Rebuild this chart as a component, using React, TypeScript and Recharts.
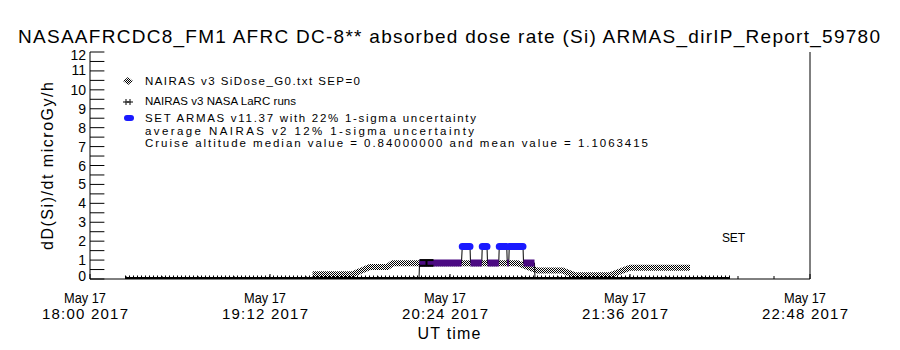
import React from 'react';
import { ComposedChart, Line, Scatter, ErrorBar, XAxis, YAxis } from 'recharts';

// time = minutes after May 17 2017 18:00 UT
const siDoseTimes = [89, 105, 112, 119, 121, 171, 179, 189, 194, 208, 216, 240];
const siDoseValues = [0.25, 0.25, 0.64, 0.64, 0.83, 0.83, 0.45, 0.45, 0.2, 0.2, 0.6, 0.6];

const larcTimes = [14, 90, 130, 180, 256];
const larcValues = [0.05, 0.05, 0.05, 0.05, 0.05];

const armasTimes = [131.6, 131.8, 148.6, 148.9, 152, 152.2, 156.7, 156.9, 158.8, 159, 163.5, 163.7, 166.7, 166.9, 167.5, 167.7, 173.2, 173.4, 177.8, 178];
const armasValues = [0, 0.85, 0.85, 1.72, 1.72, 0.85, 0.85, 1.72, 1.72, 0.85, 0.85, 1.72, 1.72, 0.85, 0.85, 1.72, 1.72, 0.85, 0.85, 0];

const avgTimes = [134.6];
const avgValues = [0.85];
const avgErrors = [0.15];

const xTickTimes = ['18:00', '19:12', '20:24', '21:36', '22:48'];
const yTicks = [0, 0.5, 1, 1.5, 2, 2.5, 3, 3.5, 4, 4.5, 5, 5.5, 6, 6.5, 7, 7.5, 8, 8.5, 9, 9.5, 10, 10.5, 11, 11.5, 12];
const xTicks = Array.from({ length: 21 }, (_, i) => i * 14.4);

const legendLines = [
  'NAIRAS v3 SiDose_G0.txt SEP=0',
  'NAIRAS v3 NASA LaRC runs',
  'SET ARMAS v11.37 with 22% 1-sigma uncertainty',
  'average NAIRAS v2 12% 1-sigma uncertainty',
  'Cruise altitude median value = 0.84000000 and mean value = 1.1063415',
];

const siDose = siDoseTimes.map((t, i) => ({ t, v: siDoseValues[i] }));
const larc = larcTimes.map((t, i) => ({ t, v: larcValues[i] }));
const armas = armasTimes.map((t, i) => {
  const v = armasValues[i];
  return { t, v, low: v > 0 && v < 1.2 ? v : null, high: v >= 1.2 ? v : null };
});
const avg = avgTimes.map((t, i) => ({ t, v: avgValues[i], err: avgErrors[i] }));

const font = '"Liberation Sans", Arial, sans-serif';

const labelShift: Record<number, number> = { 0: -3, 11: -1, 12: 3 };

const LeftTick = ({ x, y, payload }: any) => {
  const v = payload.value;
  const shift = labelShift[v] || 0;
  return (
    <g>
      <line x1={x + 4} x2={x + 18.4} y1={y} y2={y} stroke="#000" />
      {Number.isInteger(v) && (
        <text x={x} y={y + shift} dy={5} textAnchor="end" fontSize={14} fill="#000" fontFamily={font}>
          {v}
        </text>
      )}
    </g>
  );
};

const RightTick = ({ x, y }: any) => (
  <line x1={x} x2={x - 14.4} y1={y} y2={y} stroke="#000" />
);

const isMajor = (v: number) => Math.abs(v / 72 - Math.round(v / 72)) < 1e-6;

const BottomTick = ({ x, y, payload }: any) => {
  const major = isMajor(payload.value);
  const idx = Math.round(payload.value / 72);
  return (
    <g>
      <line x1={x} x2={x} y1={y} y2={y - (major ? 5 : 3)} stroke="#000" />
      {major && (
        <g fontFamily={font} fontSize={15} fill="#000">
          <text x={x - 5} y={y + 24} textAnchor="middle" textLength={42} lengthAdjust="spacingAndGlyphs">May 17</text>
          <text x={x - 5} y={y + 40} textAnchor="middle" textLength={86}>{xTickTimes[idx] + ' 2017'}</text>
        </g>
      )}
    </g>
  );
};

const TopTick = ({ x, y, payload }: any) => (
  <line x1={x} x2={x} y1={y} y2={y + (isMajor(payload.value) ? 5 : 3)} stroke="#000" />
);

export default function App() {
  return (
    <div style={{ position: 'absolute', left: 0, top: 0, width: 900, height: 350, background: '#fff', fontFamily: font }}>
      <svg width={0} height={0} style={{ position: 'absolute' }}>
        <defs>
          <pattern id="checker" width={2} height={2} patternUnits="userSpaceOnUse">
            <rect width={2} height={2} fill="#fff" />
            <rect x={0} y={0} width={1} height={1} fill="#000" />
            <rect x={1} y={1} width={1} height={1} fill="#000" />
          </pattern>
        </defs>
      </svg>
      <ComposedChart width={900} height={350} margin={{ top: 52, right: 0, bottom: 0, left: 0 }}>
        <XAxis xAxisId="bottom" dataKey="t" type="number" domain={[0, 288]} ticks={xTicks} interval={0}
          height={71} tickSize={0} tickMargin={0} tick={<BottomTick />} stroke="#000" allowDataOverflow />
        <XAxis xAxisId="top" orientation="top" dataKey="t" type="number" domain={[0, 288]} ticks={xTicks} interval={0}
          height={0} tickSize={0} tickMargin={0} tick={<TopTick />} stroke="#000" />
        <YAxis yAxisId="left" type="number" domain={[0, 12]} ticks={yTicks} interval={0} width={90}
          tickSize={0} tickMargin={4} tick={<LeftTick />} stroke="#000" allowDataOverflow />
        <YAxis yAxisId="right" orientation="right" type="number" domain={[0, 12]} ticks={yTicks} interval={0} width={90}
          tickSize={0} tickMargin={0} tick={<RightTick />} stroke="#000" />

        <Line xAxisId="bottom" yAxisId="left" data={siDose} dataKey="v" type="linear" stroke="url(#checker)"
          strokeWidth={6} dot={false} isAnimationActive={false} />
        <Line xAxisId="bottom" yAxisId="left" data={larc} dataKey="v" type="linear" stroke="#000"
          strokeWidth={2} dot={false} isAnimationActive={false} />
        <Line xAxisId="bottom" yAxisId="left" data={larc} dataKey="v" type="linear" stroke="#000"
          strokeWidth={5} strokeDasharray="1 3" dot={false} isAnimationActive={false} />
        <Line xAxisId="bottom" yAxisId="left" data={armas} dataKey="v" type="linear" stroke="#000"
          strokeWidth={1} dot={false} isAnimationActive={false} />
        <Line xAxisId="bottom" yAxisId="left" data={armas} dataKey="low" type="linear" stroke="#4b0a82"
          strokeWidth={7} dot={false} isAnimationActive={false} />
        <Line xAxisId="bottom" yAxisId="left" data={armas} dataKey="high" type="linear" stroke="#1a1aff"
          strokeWidth={7} strokeLinecap="round" dot={false} isAnimationActive={false} />
        <Scatter xAxisId="bottom" yAxisId="left" data={avg} dataKey="v" shape={() => <g />} isAnimationActive={false}>
          <ErrorBar dataKey="err" direction="y" width={7} stroke="#000" strokeWidth={2} />
        </Scatter>
      </ComposedChart>

      <svg width={900} height={350} style={{ position: 'absolute', left: 0, top: 0, pointerEvents: 'none' }}
        fontFamily={font} fill="#000">
        <text x={18} y={43} fontSize={19} textLength={862}>
          NASAAFRCDC8_FM1 AFRC DC-8** absorbed dose rate (Si) ARMAS_dirIP_Report_59780
        </text>
        <text transform="translate(53,166) rotate(-90)" textAnchor="middle" fontSize={16} textLength={168}>
          dD(Si)/dt microGy/h
        </text>
        <text x={449} y={339} textAnchor="middle" fontSize={16} textLength={63}>UT time</text>
        <text x={722} y={242} fontSize={12} textLength={23}>SET</text>

        <polygon points="123,81 128,77 133,81 128,85" fill="url(#checker)" />
        <g stroke="#000" strokeWidth={1}>
          <line x1={123} x2={129} y1={102} y2={102} />
          <line x1={126} x2={126} y1={99} y2={105} />
          <line x1={127} x2={133} y1={102} y2={102} />
          <line x1={130} x2={130} y1={99} y2={105} />
        </g>
        <rect x={124} y={115} width={10} height={6} rx={3} fill="#1a1aff" />

        <g fontSize={11.5}>
          <text x={145} y={85} textLength={215}>{legendLines[0]}</text>
          <text x={145} y={105} textLength={151}>{legendLines[1]}</text>
          <text x={145} y={122} textLength={331}>{legendLines[2]}</text>
          <text x={145} y={135} textLength={329}>{legendLines[3]}</text>
          <text x={145} y={147} textLength={503}>{legendLines[4]}</text>
        </g>
      </svg>
    </div>
  );
}
